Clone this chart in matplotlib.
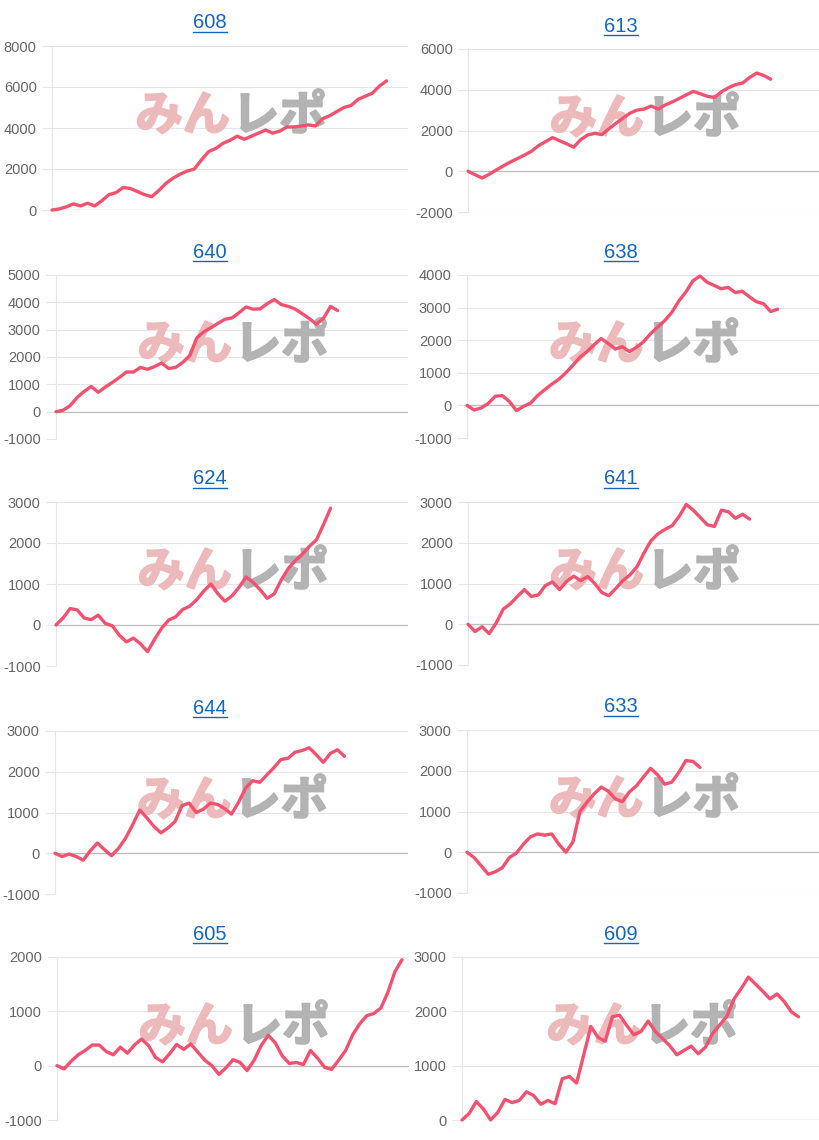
import numpy as np
import matplotlib.pyplot as plt
import matplotlib.patheffects as pe
from matplotlib.lines import Line2D
from matplotlib.ticker import FuncFormatter

plt.rcParams['font.family'] = ['Liberation Sans', 'Noto Sans CJK JP', 'DejaVu Sans']

# panel titles (machine numbers), left-to-right, top-to-bottom
machines = ['608', '613', '640', '638', '624', '641', '644', '633', '605', '609']

# cumulative diff per slot
diff_608 = [0, 50, 150, 300, 200, 330, 200, 450, 750, 850, 1100, 1050, 900, 750, 650,
            950, 1300, 1550, 1750, 1900, 2000, 2450, 2850, 3000, 3250, 3400, 3600, 3450,
            3600, 3750, 3900, 3750, 3850, 4050, 4050, 4100, 4150, 4100, 4450, 4600, 4800,
            5000, 5100, 5400, 5550, 5700, 6050, 6300]
diff_613 = [0, -170, -330, -150, 60, 260, 450, 620, 790, 980, 1250, 1450, 1650, 1500,
            1350, 1180, 1550, 1780, 1860, 1800, 2080, 2350, 2600, 2850, 3000, 3050, 3200,
            3050, 3250, 3400, 3570, 3750, 3920, 3800, 3680, 3620, 3900, 4100, 4250, 4330,
            4600, 4820, 4700, 4520]
diff_640 = [0, 50, 220, 520, 740, 920, 710, 900, 1070, 1250, 1450, 1450, 1620, 1550,
            1650, 1780, 1580, 1620, 1800, 2050, 2700, 2920, 3070, 3230, 3380, 3430, 3620,
            3830, 3750, 3760, 3950, 4100, 3920, 3850, 3750, 3580, 3400, 3200, 3420, 3850,
            3700]
diff_638 = [0, -140, -80, 60, 280, 300, 120, -160, -30, 70, 300, 480, 650, 800, 1000,
            1230, 1480, 1650, 1860, 2050, 1900, 1730, 1800, 1650, 1780, 1950, 2200, 2400,
            2600, 2850, 3200, 3480, 3820, 3970, 3780, 3680, 3580, 3620, 3460, 3500, 3330,
            3180, 3120, 2880, 2950]
diff_624 = [0, 170, 400, 370, 170, 130, 240, 40, -20, -250, -410, -320, -460, -650, -350,
            -80, 120, 200, 380, 460, 620, 830, 1000, 760, 580, 710, 920, 1170, 1040, 860,
            650, 760, 1100, 1380, 1570, 1730, 1920, 2080, 2450, 2850]
diff_641 = [0, -180, -60, -230, 30, 370, 500, 680, 850, 680, 720, 950, 1040, 850, 1050,
            1180, 1070, 1170, 1000, 780, 700, 880, 1070, 1210, 1410, 1750, 2050, 2220,
            2330, 2420, 2650, 2940, 2800, 2620, 2440, 2400, 2800, 2760, 2600, 2700, 2580]
diff_644 = [0, -80, -20, -80, -170, 60, 250, 90, -60, 120, 370, 700, 1060, 870, 660, 500,
            620, 780, 1170, 1230, 1000, 1080, 1230, 1200, 1100, 960, 1250, 1600, 1780,
            1740, 1920, 2100, 2300, 2330, 2480, 2520, 2590, 2420, 2230, 2450, 2540, 2380]
diff_633 = [0, -130, -330, -540, -480, -380, -130, -20, 200, 380, 450, 420, 450, 200, 0,
            250, 1000, 1230, 1430, 1600, 1500, 1310, 1240, 1480, 1630, 1850, 2060, 1900,
            1670, 1720, 1960, 2250, 2230, 2080]
diff_605 = [0, -60, 80, 200, 280, 380, 380, 260, 200, 340, 230, 380, 490, 370, 150, 70,
            220, 390, 300, 400, 250, 100, 0, -160, -40, 110, 60, -90, 100, 370, 560, 420,
            180, 40, 60, 20, 280, 140, -30, -70, 100, 280, 570, 770, 920, 960, 1060, 1350,
            1730, 1950]
diff_609 = [0, 120, 340, 200, 0, 140, 380, 320, 360, 520, 450, 290, 360, 300, 760, 800,
            680, 1200, 1720, 1520, 1450, 1900, 1930, 1740, 1570, 1630, 1820, 1630, 1500,
            1370, 1200, 1280, 1360, 1220, 1340, 1590, 1750, 1910, 2230, 2420, 2630, 2500,
            2370, 2230, 2320, 2180, 1990, 1900]

series = [diff_608, diff_613, diff_640, diff_638, diff_624,
          diff_641, diff_644, diff_633, diff_605, diff_609]

y_min = [0, -2000, -1000, -1000, -1000, -1000, -1000, -1000, -1000, 0]
y_max = [8000, 6000, 5000, 4000, 3000, 3000, 3000, 3000, 2000, 3000]
y_step = [2000, 2000, 1000, 1000, 1000, 1000, 1000, 1000, 1000, 1000]
n_slots = 50

# plot boxes in pixels: left, top, right, bottom
W, H = 820, 1140
boxes = [(52, 46, 408, 210), (468, 49, 820, 212),
         (56, 275, 408, 439), (467, 275, 820, 438),
         (56, 502, 408, 666), (468, 502, 820, 665),
         (55, 731, 408, 894), (467, 730, 820, 893),
         (57, 957, 409, 1120), (462, 957, 820, 1120)]
title_x = [210, 621]

line_color = '#f25270'
grid_color = '#e6e6e6'
pink = '#ecbaba'
grey = '#b3b3b3'

fig = plt.figure(figsize=(W / 100, H / 100), dpi=100)

titles = []
for i, (name, vals) in enumerate(zip(machines, series)):
    l, t, r, b = boxes[i]
    ax = fig.add_axes([l / W, 1 - b / H, (r - l) / W, (b - t) / H])
    ax.plot(range(len(vals)), vals, color=line_color, lw=2.4,
            solid_joinstyle='round', solid_capstyle='round', clip_on=False, zorder=3)
    ax.set_xlim(0, n_slots)
    ax.set_ylim(y_min[i], y_max[i])
    ax.set_yticks(np.arange(y_min[i], y_max[i] + 1, y_step[i]))
    ax.yaxis.set_major_formatter(FuncFormatter(lambda v, p: f'{int(v)}'))
    ax.set_xticks([])
    for s in ['top', 'right', 'bottom']:
        ax.spines[s].set_visible(False)
    ax.spines['left'].set_color(grid_color)
    ax.spines['left'].set_linewidth(0.8)
    ax.tick_params(axis='y', length=7, width=0.8, color=grid_color,
                   labelsize=10.5, labelcolor='#666666', pad=4)
    ax.grid(axis='y', color=grid_color, lw=0.8)
    ax.set_axisbelow(True)
    ax.axhline(0, color='#bdbdbd', lw=0.9, zorder=1)

    # watermark (under the line)
    cx, cy = (l + r) / 2, t + 70
    ax.text(cx / W, 1 - cy / H, 'みん', ha='right', va='center', fontsize=34,
            fontweight='bold', color=pink, transform=fig.transFigure,
            family=['Noto Sans CJK JP'], zorder=2,
            path_effects=[pe.withStroke(linewidth=1.5, foreground=pink)])
    ax.text(cx / W + 2 / W, 1 - cy / H, 'レポ', ha='left', va='center', fontsize=34,
            fontweight='bold', color=grey, transform=fig.transFigure,
            family=['Noto Sans CJK JP'], zorder=2,
            path_effects=[pe.withStroke(linewidth=1.5, foreground=grey)])

    tx = title_x[i % 2]
    titles.append(fig.text(tx / W, 1 - (t - 23) / H, name, ha='center', va='center',
                           fontsize=14.5, color='#1565c0'))

# underline the titles (they are links)
fig.canvas.draw()
renderer = fig.canvas.get_renderer()
for txt in titles:
    bb = txt.get_window_extent(renderer)
    y = bb.y0 + 1
    fig.add_artist(Line2D([bb.x0 / W, bb.x1 / W], [y / H, y / H],
                          color='#1565c0', lw=1.0, transform=fig.transFigure))

fig.savefig('out.png', dpi=100)
